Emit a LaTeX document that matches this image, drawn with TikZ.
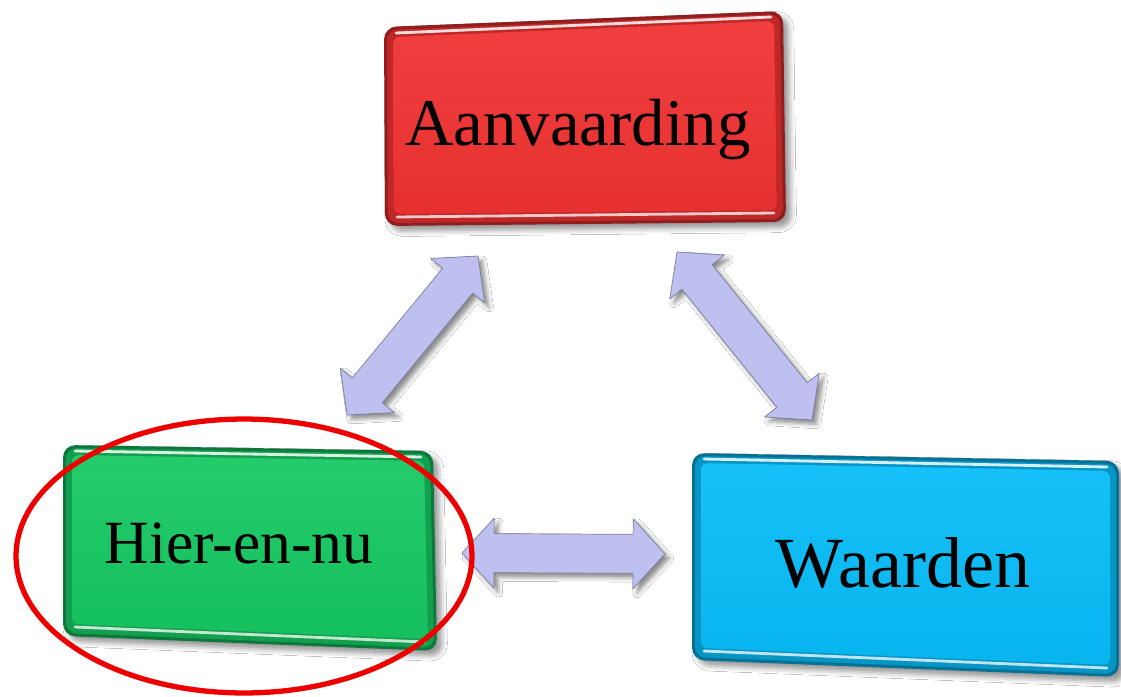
\documentclass[tikz,border=0pt]{standalone}
\usepackage{fontspec}
\setmainfont{Liberation Serif}
\usetikzlibrary{calc,shadows.blur}

\definecolor{boxred}{RGB}{240,50,50}
\definecolor{boxgreen}{RGB}{22,200,98}
\definecolor{boxblue}{RGB}{8,188,248}
\definecolor{lav}{RGB}{190,192,240}
\definecolor{ringred}{RGB}{236,0,0}

\tikzset{
  bigarrow/.style={
    fill=lav, draw=lav!65!black, line width=0.4pt, line join=round,
    blur shadow={shadow xshift=2.5pt, shadow yshift=-2.5pt,
                 shadow blur radius=2.5pt, shadow opacity=45},
    to path={
      (\tikztostart)
      -- ($(\tikztostart)!0.64cm!(\tikztotarget)!0.70cm!90:(\tikztotarget)$)
      -- ($(\tikztostart)!0.64cm!(\tikztotarget)!0.39cm!90:(\tikztotarget)$)
      -- ($(\tikztotarget)!0.64cm!(\tikztostart)!0.39cm!-90:(\tikztostart)$)
      -- ($(\tikztotarget)!0.64cm!(\tikztostart)!0.70cm!-90:(\tikztostart)$)
      -- (\tikztotarget)
      -- ($(\tikztotarget)!0.64cm!(\tikztostart)!0.70cm!90:(\tikztostart)$)
      -- ($(\tikztotarget)!0.64cm!(\tikztostart)!0.39cm!90:(\tikztostart)$)
      -- ($(\tikztostart)!0.64cm!(\tikztotarget)!0.39cm!-90:(\tikztotarget)$)
      -- ($(\tikztostart)!0.64cm!(\tikztotarget)!0.70cm!-90:(\tikztotarget)$)
      -- cycle
    }
  },
  boxlabel/.style={anchor=base, inner sep=0pt, text=black},
  ring/.style={draw=ringred, line width=3pt}
}

% glossy bevelled panel: colour, then corners tl, tr, br, bl
\newcommand\glassbody[5]{%
  \fill[#1!60!black, rounded corners=7pt,
        blur shadow={shadow xshift=3pt, shadow yshift=-3pt,
                     shadow blur radius=3pt, shadow opacity=40}]
    #2 -- #3 -- #4 -- #5 -- cycle;
  \fill[#1!80!black, rounded corners=6pt]
    ($#2+(3,3)$) -- ($#3+(-3,3)$) -- ($#4+(-3,-3)$) -- ($#5+(3,-3)$) -- cycle;
  \shade[rounded corners=4pt, top color=#1!94!white, bottom color=#1!96!black]
    ($#2+(9,10)$) -- ($#3+(-9,10)$) -- ($#4+(-9,-12)$) -- ($#5+(9,-12)$) -- cycle;
  \draw[white, opacity=.85, line width=1.6pt, line cap=round]
    ($#2+(12,6)$) -- ($#3+(-12,6)$);
  \draw[white, opacity=.75, line width=1.6pt, line cap=round]
    ($#5+(12,-9)$) -- ($#4+(-12,-9)$);
}

\begin{document}
\begin{tikzpicture}[x=0.02cm, y=-0.02cm]
  \useasboundingbox (0,0) rectangle (1121,696);
  \fill[white] (0,0) rectangle (1121,696);

  % panels
  \glassbody{boxred}{(384,27)}{(783,11)}{(786,222)}{(385,226)}
  \glassbody{boxgreen}{(63,445)}{(433,451)}{(437,651)}{(63,636)}
  \glassbody{boxblue}{(692,453)}{(1119,461)}{(1119,677)}{(692,660)}

  % labels
  \node[boxlabel, font=\fontsize{38}{40}\selectfont] (aan) at (578,145) {Aanvaarding};
  \node[boxlabel, font=\fontsize{35}{38}\selectfont] (hier) at (239,563) {Hier-en-nu};
  \node[boxlabel, font=\fontsize{41}{44}\selectfont] (waard) at (903,587) {Waarden};

  % connector end points
  \coordinate (hierTop) at (347,415);
  \coordinate (aanLeft) at (478,256);
  \coordinate (aanRight) at (677,252);
  \coordinate (waardTop) at (812,420);
  \coordinate (hierRight) at (462,553);
  \coordinate (waardLeft) at (665,554);

  % two-headed block arrows
  \path[bigarrow] (hierTop) to (aanLeft);
  \path[bigarrow] (aanRight) to (waardTop);
  \path[bigarrow] (hierRight) to (waardLeft);

  % highlight ring
  \draw[ring] (244,556) ellipse [x radius=4.56cm, y radius=2.74cm];
\end{tikzpicture}
\end{document}
